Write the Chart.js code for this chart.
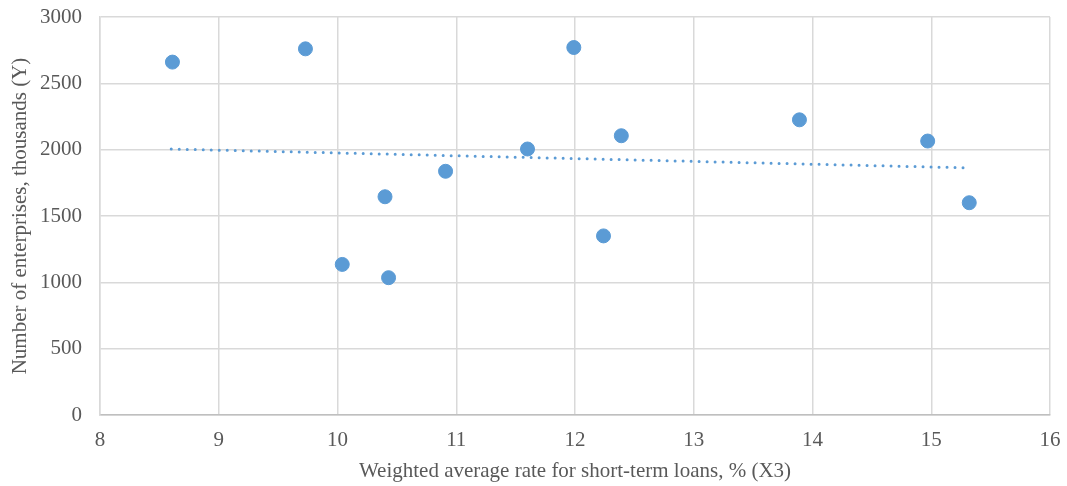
<!DOCTYPE html>
<html>
<head>
<meta charset="utf-8">
<script src="https://cdn.jsdelivr.net/npm/chart.js@4/dist/chart.umd.min.js"></script>
<style>
  html, body { margin: 0; padding: 0; background: #fff; }
  #wrap { width: 1067px; height: 486px; }
</style>
</head>
<body>
<div id="wrap"><canvas id="chart" width="1067" height="486"></canvas></div>
<script>
// values
const rateX3 = [8.61, 9.73, 11.99, 11.60, 12.39, 13.89, 14.97, 15.32, 10.40, 10.91, 10.04, 10.43, 12.24];
const enterprisesY = [2660, 2760, 2770, 2005, 2105, 2225, 2065, 1600, 1645, 1837, 1135, 1035, 1350];
const trendX = [8.6, 15.3];
const trendY = [2005, 1863];
const xTicks = [8, 9, 10, 11, 12, 13, 14, 15, 16];
const yTicks = [0, 500, 1000, 1500, 2000, 2500, 3000];

const blue = '#5b9bd5';
const grid = '#d9d9d9';
const textCol = '#595959';
const serif = "'Liberation Serif', 'Times New Roman', serif";

const points = rateX3.map((x, i) => ({ x, y: enterprisesY[i] }));
const trend = trendX.map((x, i) => ({ x, y: trendY[i] }));

new Chart(document.getElementById('chart').getContext('2d'), {
    type: 'scatter',
    data: {
        datasets: [
            {
                label: 'Number of enterprises',
                data: points,
                backgroundColor: blue,
                borderColor: blue,
                pointRadius: 7,
                pointHoverRadius: 7,
                order: 1
            },
            {
                label: 'Trend',
                type: 'line',
                data: trend,
                borderColor: blue,
                borderWidth: 3,
                borderDash: [0, 8],
                borderCapStyle: 'round',
                pointRadius: 0,
                fill: false,
                order: 2
            }
        ]
    },
    options: {
        responsive: false,
        animation: false,
        layout: { padding: { left: 8, right: 17, top: 17, bottom: 2 } },
        plugins: { legend: { display: false }, tooltip: { enabled: false } },
        scales: {
            x: {
                type: 'linear',
                min: 8,
                max: 16,
                afterBuildTicks: s => { s.ticks = xTicks.map(v => ({ value: v })); },
                afterFit: s => { s.height = 69; s.paddingLeft = 0; s.paddingRight = 0; },
                grid: { color: grid, lineWidth: 1.5, drawTicks: false },
                border: { color: '#bfbfbf', width: 1.5 },
                ticks: { color: textCol, font: { family: serif, size: 21 }, padding: 13 },
                title: {
                    display: true,
                    text: 'Weighted average rate for short-term loans, % (X3)',
                    color: textCol,
                    font: { family: serif, size: 21 },
                    padding: { top: 4, bottom: 0 }
                }
            },
            y: {
                min: 0,
                max: 3000,
                afterBuildTicks: s => { s.ticks = yTicks.map(v => ({ value: v })); },
                afterFit: s => { s.width = 92; s.paddingTop = 0; s.paddingBottom = 0; },
                grid: { color: grid, lineWidth: 1.5, drawTicks: false },
                border: { color: grid, width: 1.5 },
                ticks: {
                    color: textCol,
                    font: { family: serif, size: 21 },
                    padding: 18,
                    callback: v => String(v)
                },
                title: {
                    display: true,
                    text: 'Number of enterprises, thousands (Y)',
                    color: textCol,
                    font: { family: serif, size: 21 },
                    padding: { top: 0, bottom: 4 }
                }
            }
        }
    }
});
</script>
</body>
</html>
